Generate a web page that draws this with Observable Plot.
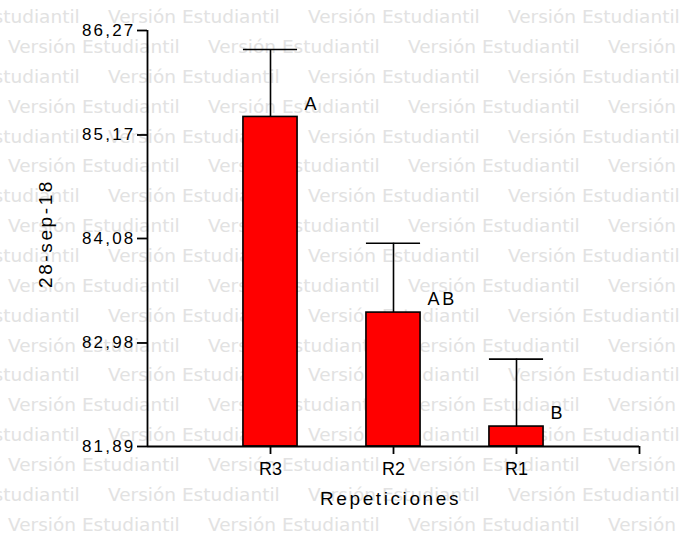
<!DOCTYPE html>
<html>
<head>
<meta charset="utf-8">
<script src="https://cdn.jsdelivr.net/npm/d3@7"></script>
<script src="https://cdn.jsdelivr.net/npm/@observablehq/plot@0.6"></script>
<style>
  html, body { margin: 0; padding: 0; background: #ffffff; }
  #wrap { position: relative; width: 681px; height: 536px; overflow: hidden; }
  #wm { position: absolute; left: 0; top: 0; }
  #chart { position: absolute; left: 0; top: 0; }
</style>
</head>
<body>
<div id="wrap">
  <svg id="wm" width="681" height="536"></svg>
  <div id="chart"></div>
</div>
<script>
// ---- data ----
const categories = ["R3", "R2", "R1"];
const means = [85.36, 83.30, 82.10];
const upperErr = [86.07, 84.03, 82.81];
const letters = ["A", "AB", "B"];
const yTicks = [81.89, 82.98, 84.08, 85.17, 86.27];
const xTitle = "Repeticiones";
const yTitle = "28-sep-18";
const watermarkText = "Versión Estudiantil";

const data = categories.map((c, i) => ({cat: c, pos: i + 1, mean: means[i], up: upperErr[i], letter: letters[i]}));
const half = 0.22;
const yMin = yTicks[0], yMax = yTicks[yTicks.length - 1];

// ---- watermark (background decoration) ----
const wm = d3.select("#wm");
for (let r = 0; r < 19; r++) {
  const off = r % 2 === 0 ? -92 : 8;
  for (let k = 0; k < 5; k++) {
    wm.append("text")
      .attr("x", off + k * 200)
      .attr("y", 23.2 + r * 29.85)
      .attr("font-family", "DejaVu Sans, sans-serif")
      .attr("font-size", 18.5)
      .attr("fill", "#e2e2e2")
      .text(watermarkText);
  }
}

// ---- chart ----
const chart = Plot.plot({
  width: 681,
  height: 536,
  marginLeft: 147,
  marginRight: 42,
  marginTop: 30,
  marginBottom: 90,
  style: {background: "transparent", fontFamily: "'Liberation Sans', Arial, sans-serif", fontSize: "16px", color: "black"},
  x: {type: "linear", domain: [0, 4]},
  y: {domain: [yMin, yMax]},
  marks: [
    Plot.rectY(data, {x1: d => d.pos - half, x2: d => d.pos + half, y1: yMin, y2: "mean", fill: "#ff0000", stroke: "black", strokeWidth: 1.6}),
    Plot.ruleX(data, {x: "pos", y1: "mean", y2: "up", stroke: "black", strokeWidth: 1.6}),
    Plot.ruleY(data, {y: "up", x1: d => d.pos - half, x2: d => d.pos + half, stroke: "black", strokeWidth: 1.6}),
    Plot.text(data, {x: d => d.pos + half, y: "mean", text: "letter", dx: 7, dy: -13, textAnchor: "start", fontSize: 18, fill: "black"}),
    Plot.ruleX([0], {y1: yMin, y2: yMax, stroke: "black", strokeWidth: 1.8}),
    Plot.ruleY([yMin], {x1: 0, x2: 4, stroke: "black", strokeWidth: 1.8}),
    Plot.axisY({ticks: yTicks, tickFormat: d => d.toFixed(2).replace(".", ","), tickSize: 10, tickPadding: 2, fontSize: 17, label: null, strokeWidth: 1.8}),
    Plot.axisX({ticks: [1, 2, 3, 4], tickFormat: d => categories[d - 1] ?? "", tickSize: 8, tickPadding: 8, fontSize: 18, label: null, strokeWidth: 1.8}),
    Plot.text([yTitle], {frameAnchor: "left", textAnchor: "middle", lineAnchor: "middle", text: d => d, rotate: -90, dx: -102, dy: -5, fontSize: 19, fill: "black"}),
    Plot.text([xTitle], {frameAnchor: "bottom", textAnchor: "middle", lineAnchor: "middle", text: d => d, dy: 52, dx: -3, fontSize: 19, fill: "black"})
  ]
});
document.getElementById("chart").appendChild(chart);

// slight horizontal widening of text to mimic the original rendering
const svg = d3.select(chart);
svg.selectAll("[aria-label='y-axis tick label'] text").style("letter-spacing", "2.2px");
svg.selectAll("[aria-label='text'] text").style("letter-spacing", "2.6px");
</script>
</body>
</html>
